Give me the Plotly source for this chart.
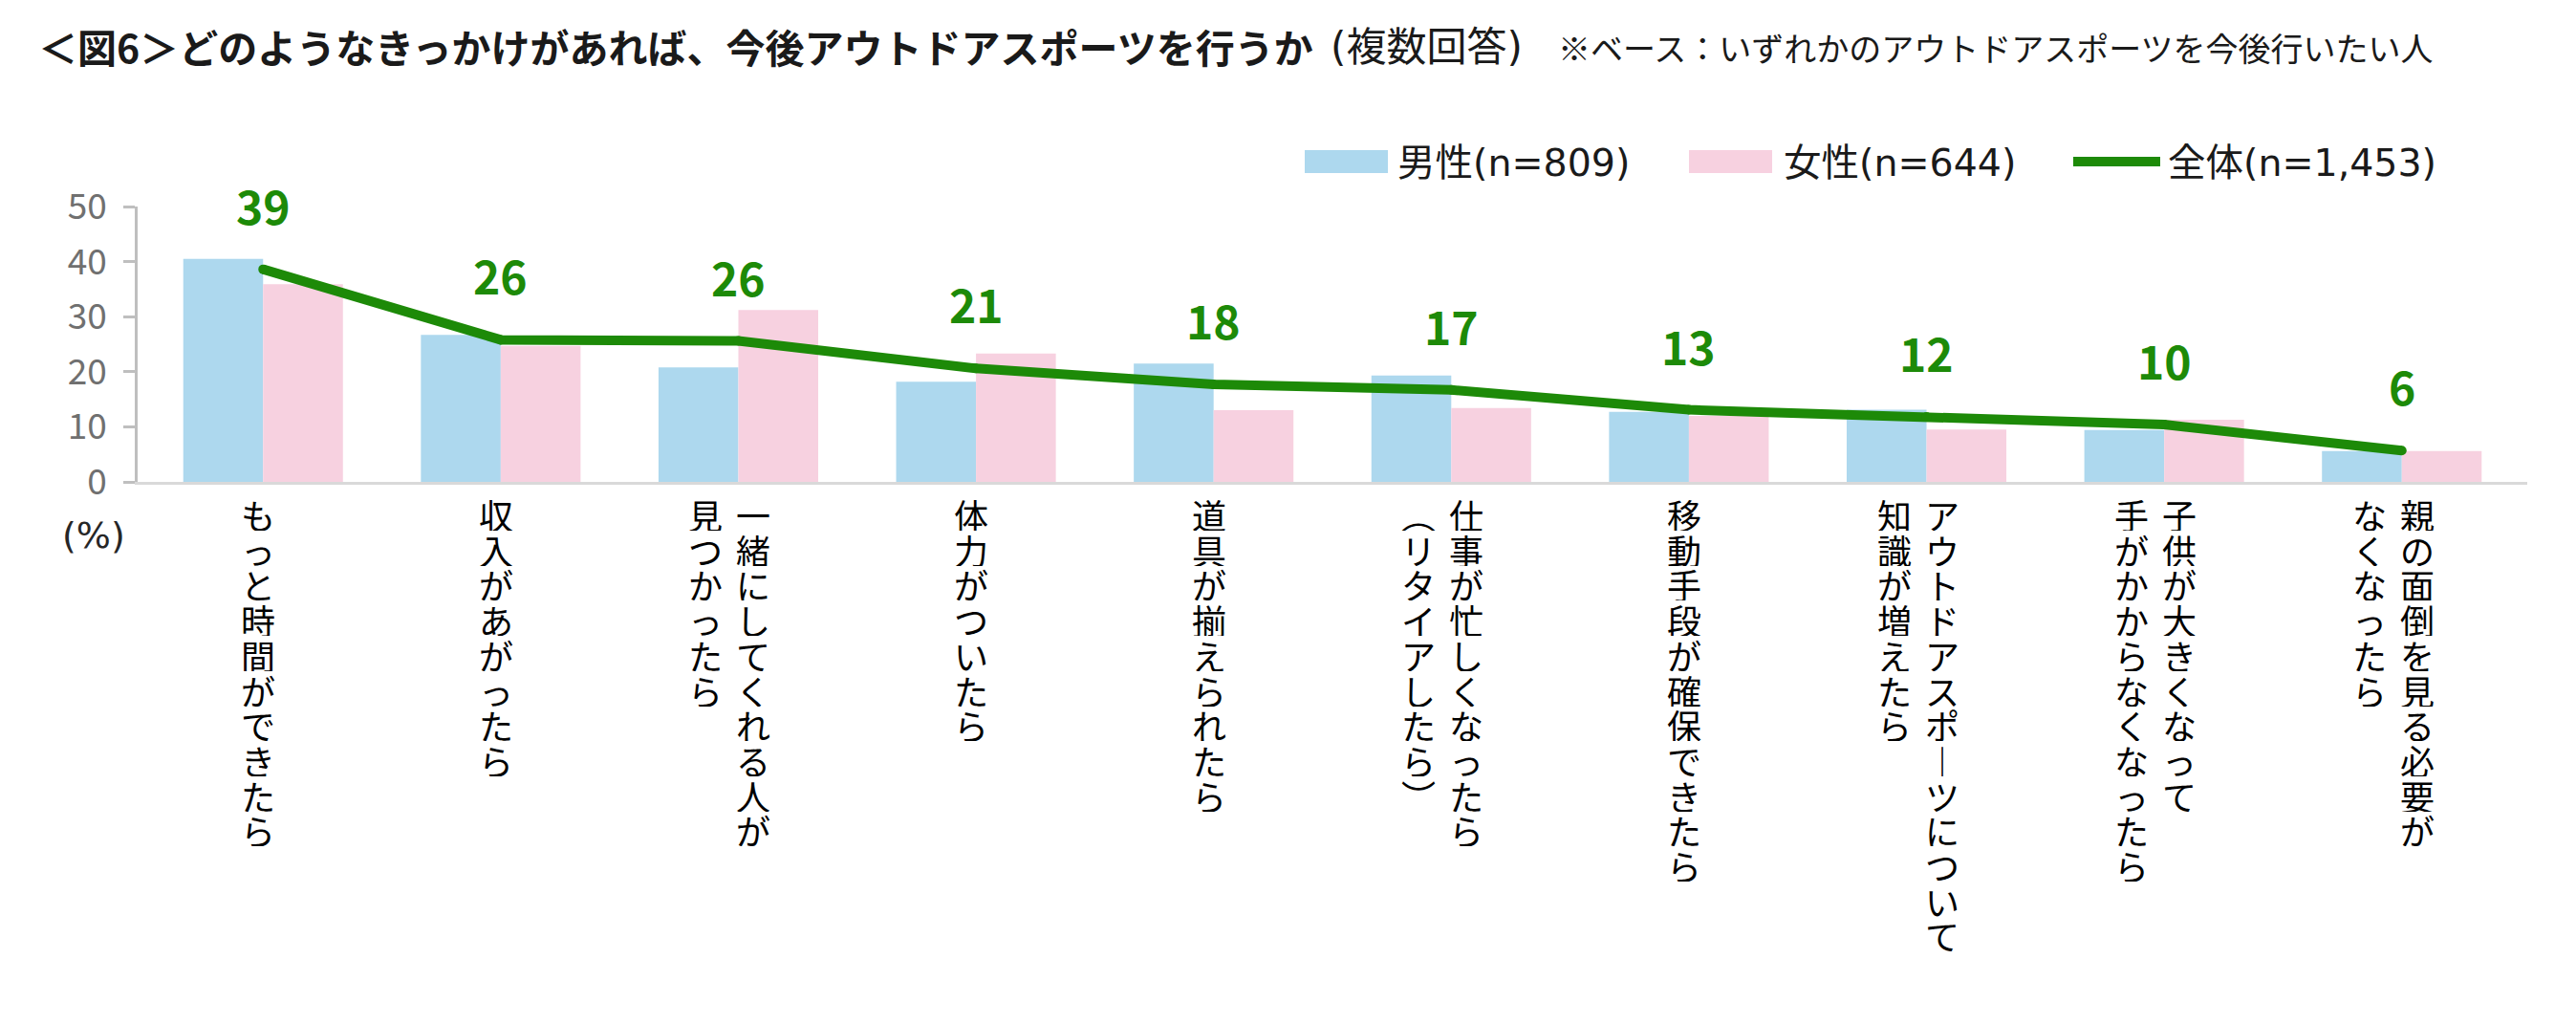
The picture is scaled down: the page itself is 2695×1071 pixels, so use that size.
import plotly.graph_objects as go

# ---------------- data ----------------
categories = [
    "もっと時間ができたら",
    "収入があがったら",
    "一緒にしてくれる人が見つかったら",
    "体力がついたら",
    "道具が揃えられたら",
    "仕事が忙しくなったら（リタイアしたら）",
    "移動手段が確保できたら",
    "アウトドアスポーツについて知識が増えたら",
    "子供が大きくなって手がかからなくなったら",
    "親の面倒を見る必要がなくなったら",
]
label_columns = [
    ["もっと時間ができたら"],
    ["収入があがったら"],
    ["一緒にしてくれる人が", "見つかったら"],
    ["体力がついたら"],
    ["道具が揃えられたら"],
    ["仕事が忙しくなったら", "（リタイアしたら）"],
    ["移動手段が確保できたら"],
    ["アウトドアスポーツについて", "知識が増えたら"],
    ["子供が大きくなって", "手がかからなくなったら"],
    ["親の面倒を見る必要が", "なくなったら"],
]
male = [40.5, 26.7, 20.8, 18.2, 21.5, 19.3, 12.7, 13.1, 9.4, 5.6]
female = [35.9, 24.7, 31.2, 23.3, 13.0, 13.4, 12.0, 9.5, 11.3, 5.6]
total = [38.6, 25.8, 25.6, 20.6, 17.7, 16.7, 13.1, 11.8, 10.4, 5.7]
series_names = ["男性(n=809)", "女性(n=644)", "全体(n=1,453)"]
y_ticks = [0, 10, 20, 30, 40, 50]

title_main = "＜図6＞どのようなきっかけがあれば、今後アウトドアスポーツを行うか"
title_sub1 = "(複数回答)"
title_sub2 = "※ベース：いずれかのアウトドアスポーツを今後行いたい人"
unit_label = "(%)"

# ---------------- style ----------------
W, H = 2695, 1071
ML, MR, MT, MB = 144, 51, 216, 567
PW, PH = W - ML - MR, H - MT - MB
BLUE = "#ADD8EE"
PINK = "#F7D1E0"
GREEN = "#1D8A08"
CJK = "Noto Sans CJK JP"
LAT = "DejaVu Sans, Noto Sans CJK JP"


def px2paper_x(px):
    return (px - ML) / PW


def px2paper_y(py):
    return (H - MB - py) / PH


fig = go.Figure()
fig.add_trace(go.Bar(x=categories, y=male, name=series_names[0],
                     marker=dict(color=BLUE, line=dict(width=0))))
fig.add_trace(go.Bar(x=categories, y=female, name=series_names[1],
                     marker=dict(color=PINK, line=dict(width=0))))
fig.add_trace(go.Scatter(x=categories, y=total, name=series_names[2],
                         mode="lines+markers",
                         line=dict(color=GREEN, width=10),
                         marker=dict(color=GREEN, size=10)))

annotations = []
# data labels of total line
for c, v in zip(categories, total):
    annotations.append(dict(x=c, y=v, xref="x", yref="y", text=str(int(v + 0.5)),
                            showarrow=False, yanchor="middle", yshift=68,
                            font=dict(family=CJK, size=48, color=GREEN, weight=700)))

# vertical category labels (one character per annotation, top to bottom)
vmap = {"（": "︵", "）": "︶", "ー": "︱"}
pitch = 36.7
for c, cols in zip(categories, label_columns):
    offsets = [-5] if len(cols) == 1 else [16, -34]
    for col, off in zip(cols, offsets):
        for i, ch in enumerate(col):
            annotations.append(dict(x=c, y=0, xref="x", yref="paper",
                                    text=vmap.get(ch, ch), showarrow=False,
                                    xanchor="center", yanchor="middle",
                                    height=34, width=40, borderpad=0,
                                    xshift=off, yshift=-(34 + pitch * i),
                                    font=dict(family=CJK, size=36, color="#000000")))

# unit label
annotations.append(dict(x=px2paper_x(98), y=px2paper_y(560), xref="paper", yref="paper",
                        text=unit_label, showarrow=False, xanchor="center", yanchor="middle",
                        font=dict(family=LAT, size=38, color="#262626")))

# title
annotations.append(dict(x=px2paper_x(38), y=px2paper_y(48), xref="paper", yref="paper",
                        text=title_main, showarrow=False, xanchor="left", yanchor="middle",
                        font=dict(family=CJK, size=41, color="#1a1a1a", weight=700)))
annotations.append(dict(x=px2paper_x(1390), y=px2paper_y(49), xref="paper", yref="paper",
                        text=title_sub1, showarrow=False, xanchor="left", yanchor="middle",
                        font=dict(family=LAT, size=42, color="#1a1a1a")))
annotations.append(dict(x=px2paper_x(1628), y=px2paper_y(49), xref="paper", yref="paper",
                        text=title_sub2, showarrow=False, xanchor="left", yanchor="middle",
                        font=dict(family=CJK, size=34, color="#1a1a1a")))

# manual legend
shapes = []
legend_y = 169
leg_items = [
    ("bar", BLUE, 1365, 1452, 1460, series_names[0]),
    ("bar", PINK, 1767, 1854, 1864, series_names[1]),
    ("line", GREEN, 2169, 2260, 2266, series_names[2]),
]
for kind, colr, x0, x1, tx, name in leg_items:
    if kind == "bar":
        shapes.append(dict(type="rect", xref="paper", yref="paper",
                           x0=px2paper_x(x0), x1=px2paper_x(x1),
                           y0=px2paper_y(legend_y + 12), y1=px2paper_y(legend_y - 12),
                           fillcolor=colr, line=dict(width=0)))
    else:
        shapes.append(dict(type="line", xref="paper", yref="paper",
                           x0=px2paper_x(x0), x1=px2paper_x(x1),
                           y0=px2paper_y(legend_y), y1=px2paper_y(legend_y),
                           line=dict(color=colr, width=10)))
    annotations.append(dict(x=px2paper_x(tx), y=px2paper_y(legend_y + 1), xref="paper", yref="paper",
                            text=name, showarrow=False, xanchor="left", yanchor="middle",
                            font=dict(family=LAT, size=39.5, color="#1a1a1a")))

fig.update_layout(
    width=W, height=H,
    margin=dict(l=ML, r=MR, t=MT, b=MB, pad=0),
    paper_bgcolor="white", plot_bgcolor="white",
    barmode="group", bargap=0.328, bargroupgap=0,
    showlegend=False,
    annotations=annotations, shapes=shapes,
    xaxis=dict(type="category", showticklabels=False, ticks="",
               showline=True, linecolor="#D9D9D9", linewidth=3,
               showgrid=False, zeroline=False, fixedrange=True),
    yaxis=dict(range=[0, 50], tickvals=y_ticks, showline=True, linecolor="#BFBFBF",
               linewidth=2.5, ticks="outside", ticklen=12, tickwidth=2.5,
               tickcolor="#BFBFBF", showgrid=False, zeroline=False,
               ticklabelstandoff=10,
               tickfont=dict(family=CJK, size=37, color="#707070")),
)

fig.write_html("out.html", config={"displayModeBar": False},
               post_script="document.body.style.margin='0';document.body.style.overflow='hidden';")
